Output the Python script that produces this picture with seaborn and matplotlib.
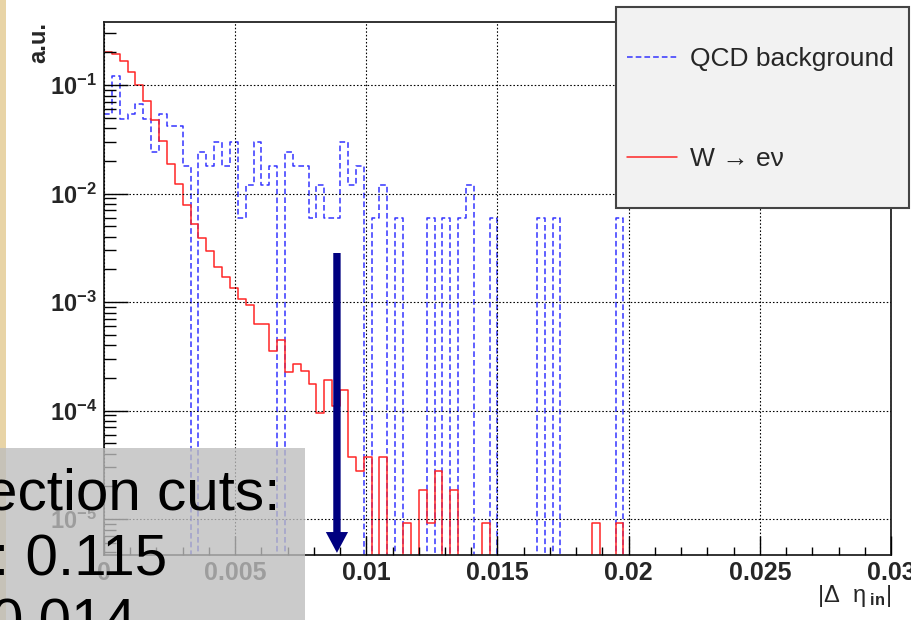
import numpy as np
import pandas as pd
import matplotlib
matplotlib.use("Agg")
import matplotlib.pyplot as plt
import seaborn as sns
from matplotlib.patches import Rectangle
from matplotlib.lines import Line2D
from matplotlib.ticker import FixedLocator, FixedFormatter, FuncFormatter, NullFormatter

# ---------------- data ----------------
x_min, x_max, n_bins = 0.0, 0.03, 100

qcd_background = [
    0.0542, 0.1205, 0.0482, 0.0542, 0.0663, 0.0482, 0.0241, 0.0542, 0.0422, 0.0422,
    0.0181, 0.0, 0.0241, 0.0181, 0.0301, 0.0181, 0.0301, 0.0060, 0.0120, 0.0301,
    0.0120, 0.0181, 0.0, 0.0241, 0.0181, 0.0181, 0.0060, 0.0120, 0.0060, 0.0060,
    0.0301, 0.0120, 0.0181, 0.0, 0.0060, 0.0120, 0.0, 0.0060, 0.0, 0.0,
    0.0, 0.0060, 0.0, 0.0060, 0.0, 0.0060, 0.0120, 0.0, 0.0, 0.0060,
    0.0, 0.0, 0.0, 0.0, 0.0, 0.0060, 0.0, 0.0060, 0.0, 0.0,
    0.0, 0.0, 0.0, 0.0, 0.0, 0.0060, 0.0, 0.0, 0.0, 0.0,
    0.0, 0.0, 0.0, 0.0, 0.0, 0.0, 0.0, 0.0, 0.0, 0.0,
    0.0, 0.0, 0.0, 0.0, 0.0, 0.0, 0.0, 0.0, 0.0, 0.0,
    0.0, 0.0, 0.0, 0.0, 0.0, 0.0, 0.0, 0.0, 0.0, 0.0,
]

w_to_enu = [
    0.203, 0.195, 0.165, 0.133, 0.0995, 0.0712, 0.0475, 0.0307, 0.0188, 0.0123,
    0.0079, 0.00525, 0.00389, 0.00293, 0.00209, 0.00171, 0.00136, 0.00107, 0.00094, 0.000626,
    0.000626, 0.00035, 0.000447, 0.000227, 0.00027, 0.000231, 0.000176, 0.000094, 0.000191, 0.00011,
    0.000155, 3.7e-5, 2.78e-5, 3.7e-5, 0.0, 3.7e-5, 0.0, 0.0, 9.25e-6, 0.0,
    1.85e-5, 9.25e-6, 2.78e-5, 0.0, 1.85e-5, 0.0, 0.0, 0.0, 9.25e-6, 0.0,
    0.0, 0.0, 0.0, 0.0, 0.0, 0.0, 0.0, 0.0, 0.0, 0.0,
    0.0, 0.0, 9.25e-6, 0.0, 0.0, 9.25e-6, 0.0, 0.0, 0.0, 0.0,
    0.0, 0.0, 0.0, 0.0, 0.0, 0.0, 0.0, 0.0, 0.0, 0.0,
    0.0, 0.0, 0.0, 0.0, 0.0, 0.0, 0.0, 0.0, 0.0, 0.0,
    0.0, 0.0, 0.0, 0.0, 0.0, 0.0, 0.0, 0.0, 0.0, 0.0,
]

x_ticks = [0.0, 0.005, 0.01, 0.015, 0.02, 0.025, 0.03]
x_tick_labels = ["0", "0.005", "0.01", "0.015", "0.02", "0.025", "0.03"]
y_decades = [1e-5, 1e-4, 1e-3, 1e-2, 1e-1]
y_range = (4.66e-6, 0.381)

series_labels = ["QCD background", "W \u2192 e\u03bd"]
cut_value = 0.00888
arrow_top = 0.00283

box_lines = ["ection cuts:", ": 0.115", "0.014"]

# ---------------- style ----------------
sns.set_theme(style="white")
plt.rcParams["font.family"] = ["Liberation Sans", "DejaVu Sans"]
plt.rcParams["mathtext.fontset"] = "custom"
plt.rcParams["mathtext.rm"] = "Liberation Sans"
plt.rcParams["mathtext.it"] = "Liberation Sans:italic"
plt.rcParams["mathtext.bf"] = "Liberation Sans:bold"

W, H = 911, 620
BLUE = "#3434ff"
RED = "#ff2626"
NAVY = "#000080"

fig = plt.figure(figsize=(W / 100, H / 100), dpi=100, facecolor="white")
ax = fig.add_axes([104 / W, 1 - 555 / H, (891 - 104) / W, (555 - 22) / H])
ax.set_facecolor("white")

edges = np.linspace(x_min, x_max, n_bins + 1)
centers = 0.5 * (edges[:-1] + edges[1:])
df = pd.DataFrame({"x": centers, "qcd": qcd_background, "wenu": w_to_enu})

dash = (0, (3.7, 2.0))
sns.histplot(data=df, x="x", weights="qcd", bins=list(edges), element="step",
             fill=False, color=BLUE, linestyle=dash, linewidth=1.1, ax=ax)
sns.histplot(data=df, x="x", weights="wenu", bins=list(edges), element="step",
             fill=False, color=RED, linewidth=1.1, ax=ax)

ax.set_yscale("log")
ax.set_xlim(x_min, x_max)
ax.set_ylim(*y_range)

# ticks
ax.xaxis.set_major_locator(FixedLocator(x_ticks))
ax.xaxis.set_major_formatter(FixedFormatter(x_tick_labels))
ax.xaxis.set_minor_locator(FixedLocator(np.arange(0, 0.0301, 0.001)))
ax.yaxis.set_major_locator(FixedLocator(y_decades))
ax.yaxis.set_major_formatter(FuncFormatter(
    lambda v, p: r"$\mathbf{10^{%d}}$" % int(round(np.log10(v)))))
minor_y = [m * d for d in [1e-6] + y_decades for m in range(2, 10)]
ax.yaxis.set_minor_locator(FixedLocator(minor_y))
ax.yaxis.set_minor_formatter(NullFormatter())

ax.tick_params(axis="x", which="major", direction="in", length=13.5, width=1.0,
               color="black", bottom=True, top=False, pad=4.5, labelsize=18)
ax.tick_params(axis="x", which="minor", direction="in", length=6, width=1.0,
               color="black", bottom=True, top=False)
ax.tick_params(axis="y", which="major", direction="in", length=17, width=1.0,
               color="black", left=True, right=False, pad=5, labelsize=17)
ax.tick_params(axis="y", which="minor", direction="in", length=8.5, width=1.0,
               color="black", left=True, right=False)
for lab in ax.get_xticklabels():
    lab.set_fontweight("bold")

ax.grid(True, which="major", color="black", linestyle=(0, (1.4, 1.8)), linewidth=0.8)
ax.set_axisbelow(False)

for s in ax.spines.values():
    s.set_color("#222222")
    s.set_linewidth(1.3)

ax.set_ylabel("a.u.", fontsize=17, fontweight="bold", loc="top")
ax.yaxis.set_label_coords(-(104 - 50) / (891 - 104), 1.0)
ax.set_xlabel(r"$|\Delta\ \ \mathrm{\eta}_{\ \mathbf{in}}|$", fontsize=17, loc="right")
ax.xaxis.set_label_coords(1.0, -(583 - 555) / (555 - 22))

# cut arrow
ax.annotate("", xy=(cut_value, 0.004), xycoords=("data", "axes fraction"),
            xytext=(cut_value, arrow_top), textcoords="data",
            arrowprops=dict(facecolor=NAVY, edgecolor="none", width=5.3,
                            headwidth=16, headlength=15, shrink=0))

# parchment strip at the left edge
fig.patches.append(Rectangle((0, 0), 6 / W, 1, transform=fig.transFigure,
                             facecolor="#e8d4a6", edgecolor="none", zorder=0.5))

# legend box
fig.patches.append(Rectangle((616 / W, 1 - 208 / H), 293 / W, 201 / H,
                             transform=fig.transFigure, facecolor="#f2f2f2",
                             edgecolor="#444444", linewidth=1.5, zorder=3))
handles = [Line2D([], [], color=BLUE, linestyle=dash, linewidth=1.1),
           Line2D([], [], color=RED, linewidth=1.1)]
leg = fig.legend(handles, series_labels, loc="upper left",
                 bbox_to_anchor=(627 / W, 1 - 47 / H), frameon=False,
                 fontsize=19, handlelength=1.9, handletextpad=0.5,
                 labelspacing=2.88, borderpad=0, borderaxespad=0)
leg.set_zorder(4)

# semi-transparent selection box (bottom-left)
fig.patches.append(Rectangle((0, 0), 305 / W, (620 - 448) / H,
                             transform=fig.transFigure, facecolor=(190 / 255,) * 3,
                             alpha=0.79, edgecolor="none", zorder=5))
box_x = [-15, -7, -9]
box_base = [510, 575, 640]
for txt, bx, by in zip(box_lines, box_x, box_base):
    fig.text(bx / W, 1 - by / H, txt, fontsize=42, color="black",
             ha="left", va="baseline", zorder=6)

fig.savefig("out.png", dpi=100, facecolor="white")
